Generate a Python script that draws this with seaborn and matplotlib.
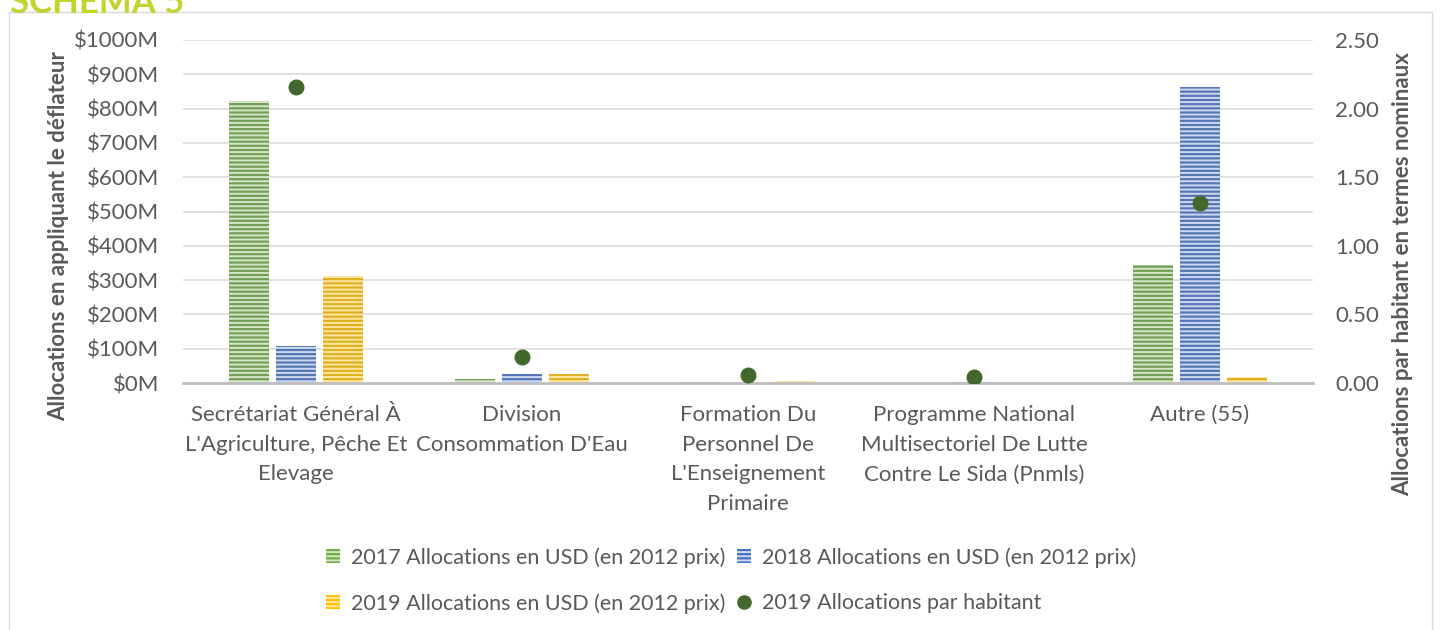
import numpy as np
import pandas as pd
import seaborn as sns
import matplotlib.pyplot as plt
from matplotlib.patches import Patch, Rectangle
from matplotlib.lines import Line2D
from matplotlib.ticker import FuncFormatter, MultipleLocator

categories = [
    "Secrétariat Général À\nL'Agriculture, Pêche Et\nElevage",
    "Division\nConsommation D'Eau",
    "Formation Du\nPersonnel De\nL'Enseignement\nPrimaire",
    "Programme National\nMultisectoriel De Lutte\nContre Le Sida (Pnmls)",
    "Autre (55)",
]
series_names = [
    "2017 Allocations en USD (en 2012 prix)",
    "2018 Allocations en USD (en 2012 prix)",
    "2019 Allocations en USD (en 2012 prix)",
]
alloc_2017 = [822, 11, 4, 1, 343]      # millions USD
alloc_2018 = [108, 27, 1, 3, 863]
alloc_2019 = [313, 27, 6, 4, 17]
per_capita_2019 = [2.16, 0.19, 0.06, 0.045, 1.31]
dot_name = "2019 Allocations par habitant"

face_cols = ["#70AD47", "#4472C4", "#FFC000"]
stripe_cols = ["#D3E6C6", "#CDD9F0", "#FFE7A3"]
dot_col = "#43682B"
text_col = "#595959"

sns.set_style("white")
plt.rcParams["font.family"] = ["Lato", "DejaVu Sans"]
plt.rcParams["hatch.linewidth"] = 1.4
FS = 16

df = pd.DataFrame({
    "cat": categories * 3,
    "serie": np.repeat(series_names, len(categories)),
    "val": alloc_2017 + alloc_2018 + alloc_2019,
})

fig = plt.figure(figsize=(14.41, 6.30), dpi=100)
ax = fig.add_axes([183 / 1441, 1 - 383 / 630, 1130 / 1441, 343 / 630])

sns.barplot(data=df, x="cat", y="val", hue="serie", order=categories,
            hue_order=series_names, palette=dict(zip(series_names, face_cols)),
            width=0.62, gap=0.15, legend=False, ax=ax)

# striped fill like the original
for cont, sc in zip(ax.containers, stripe_cols):
    for bar in cont:
        bar.set_edgecolor(sc)
        bar.set_linewidth(0)
        bar.set_hatch("----")

ax2 = ax.twinx()
sns.stripplot(x=categories, y=per_capita_2019, order=categories, jitter=False,
              color=dot_col, size=11.5, linewidth=0, ax=ax2)

ax.set_ylim(0, 1000)
ax2.set_ylim(0, 2.5)
ax.set_xlim(-0.5, 4.5)
ax.yaxis.set_major_locator(MultipleLocator(100))
ax2.yaxis.set_major_locator(MultipleLocator(0.5))
ax.yaxis.set_major_formatter(FuncFormatter(lambda v, p: f"${v:.0f}M"))
ax2.yaxis.set_major_formatter(FuncFormatter(lambda v, p: f"{v:.2f}"))

ax.set_axisbelow(True)
ax.grid(axis="y", color="#D9D9D9", lw=1.1)
ax.grid(axis="x", visible=False)
for a in (ax, ax2):
    for s in a.spines.values():
        s.set_visible(False)
ax.spines["bottom"].set_visible(True)
ax.spines["bottom"].set_color("#BFBFBF")
ax.spines["bottom"].set_linewidth(2)
ax.set_xlabel("")
ax.set_ylabel("")
ax2.set_ylabel("")

ax.set_xticks(range(len(categories)))
ax.set_xticklabels(categories, linespacing=1.6)
ax.tick_params(axis="x", length=0, pad=16, labelsize=FS, labelcolor=text_col)
ax.tick_params(axis="y", length=0, pad=17, labelsize=FS, labelcolor=text_col)
ax2.tick_params(axis="y", length=0, pad=16, labelsize=FS, labelcolor=text_col)

fig.text(59 / 1441, 1 - 236 / 630, "Allocations en appliquant le déflateur",
         rotation=90, ha="center", va="center", fontsize=FS, weight="bold", color=text_col)
fig.text(1403 / 1441, 1 - 274 / 630, "Allocations par habitant en termes nominaux",
         rotation=90, ha="center", va="center", fontsize=FS, weight="bold", color=text_col)

# chart title cut at the top edge, as in the source
fig.text(10 / 1441, 1 - 13 / 630, "SCHÉMA 5", ha="left", va="baseline",
         fontsize=25, weight="bold", color="#C4D22E")

fig.add_artist(Rectangle((9 / 1441, -0.01), 1423 / 1441, 1.01 - 12 / 630,
                         transform=fig.transFigure, fill=False,
                         edgecolor="#D9D9D9", lw=1))

handles = [
    Patch(facecolor=face_cols[0], edgecolor=stripe_cols[0], lw=0, hatch="----"),
    Patch(facecolor=face_cols[2], edgecolor=stripe_cols[2], lw=0, hatch="----"),
    Patch(facecolor=face_cols[1], edgecolor=stripe_cols[1], lw=0, hatch="----"),
    Line2D([], [], marker="o", ls="", color=dot_col, markersize=9.5),
]
labels = [series_names[0], series_names[2], series_names[1], dot_name]
fig.legend(handles, labels, ncol=2, loc="upper left",
           bbox_to_anchor=(326 / 1441, 1 - 547 / 630), frameon=False,
           fontsize=15.5, labelcolor=text_col, handlelength=0.65, handleheight=0.6,
           handletextpad=0.5, columnspacing=0.55, labelspacing=1.18,
           borderpad=0, borderaxespad=0)

fig.savefig("out.png", dpi=100)
